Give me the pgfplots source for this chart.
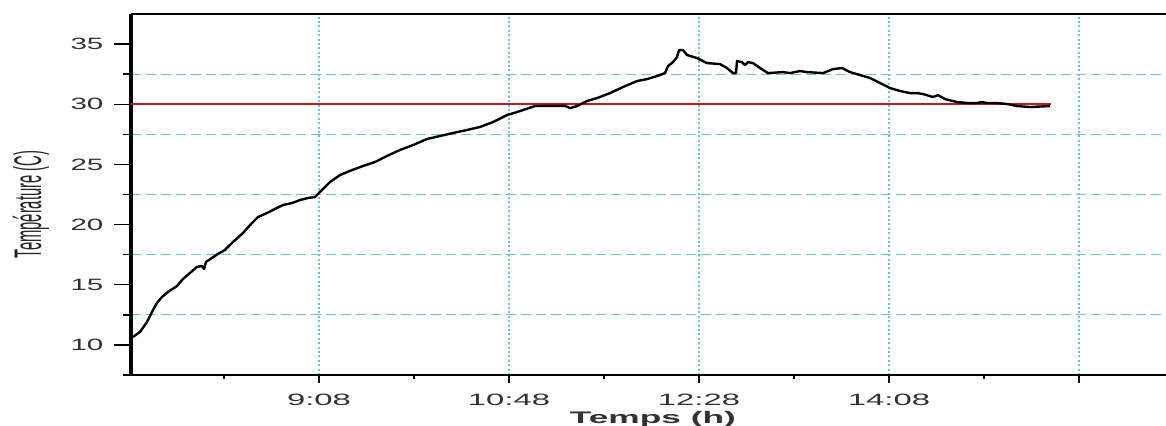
\documentclass[border=0pt]{standalone}
\usepackage{pgfplots}
\pgfplotsset{compat=1.18}
\usepackage{fontspec}
\setmainfont{Liberation Sans}
\definecolor{gridc}{RGB}{105,195,210}
\definecolor{redl}{RGB}{185,30,35}
\definecolor{tl}{RGB}{50,50,50}
\begin{document}
\begin{tikzpicture}
\begin{axis}[
  scale only axis,
  width=517.5pt, height=180.5pt,
  xmin=449.05, xmax=993.8,
  ymin=7.5, ymax=37.5,
  /pgf/number format/assume math mode=true,
  axis x line*=box, axis y line*=left,
  x axis line style={line width=1.2pt},
  y axis line style={line width=1.6pt,-},
  xtick={548,648,748,848,948},
  xticklabels={\scalebox{2}[1]{9:08},\scalebox{2}[1]{10:48},\scalebox{2}[1]{12:28},\scalebox{2}[1]{14:08},{}},
  minor xtick={498,598,698,798,898},
  ytick={10,15,20,25,30,35},
  yticklabel={\scalebox{1.8}[1]{\pgfmathprintnumber{\tick}}},
  minor ytick={7.5,12.5,17.5,22.5,27.5,32.5},
  tick align=outside,
  xtick pos=bottom, ytick pos=left,
  xtick style={/pgfplots/major tick length=4pt,/pgfplots/minor tick length=2pt,line width=1.3pt,black},
  ytick style={/pgfplots/major tick length=8.5pt,/pgfplots/minor tick length=4pt,line width=0.7pt,black},
  tick label style={font=\fontsize{8.2}{9}\selectfont, text=tl},
  xticklabel style={yshift=-1.5pt},
  yticklabel style={xshift=-6pt},
  xmajorgrids, yminorgrids, ymajorgrids=false,
  major x grid style={gridc, line width=1pt, dash pattern=on 1pt off 1.2pt},
  minor y grid style={gridc, line width=0.55pt, dash pattern=on 5pt off 2.5pt},
  clip=true,
]
\addplot[redl, line width=0.8pt] coordinates {(449.05,30) (933,30)};
\addplot[black, line width=1.2pt, line join=round] coordinates {
(450.1,10.66)(453.8,11.08)(457.5,11.91)(460.1,12.74)(462.7,13.49)(465.4,13.99)
(468.5,14.40)(473.3,14.90)(476.4,15.48)(480.1,15.98)(483.8,16.48)(486.4,16.56)
(487.5,16.31)(488.5,16.89)(491.7,17.23)(494.8,17.56)(498.5,17.89)(502.7,18.55)
(508.0,19.30)(512.7,20.13)(515.9,20.63)(520.6,20.96)(524.8,21.30)(529.1,21.63)
(533.8,21.79)(538.0,22.04)(542.2,22.21)(545.9,22.29)(548.5,22.71)(553.8,23.54)
(559.1,24.12)(565.4,24.53)(571.2,24.87)(577.5,25.20)(583.8,25.70)(590.6,26.20)
(597.5,26.61)(604.8,27.11)(611.7,27.36)(618.5,27.61)(625.9,27.86)(632.7,28.11)
(639.6,28.52)(646.9,29.10)(652.2,29.35)(655.4,29.52)(661.7,29.85)(669.6,29.87)
(677.5,29.87)(680.1,29.68)(683.8,29.85)(689.1,30.27)(694.3,30.51)(701.2,30.93)
(708.0,31.43)(715.4,31.93)(720.6,32.09)(725.9,32.34)(730.1,32.59)(731.7,33.17)
(734.3,33.50)(736.4,33.92)(737.5,34.50)(739.6,34.50)(741.7,34.09)(746.9,33.84)
(752.2,33.42)(759.0,33.34)(762.7,33.01)(765.9,32.59)(767.5,32.59)(768.0,33.59)
(770.6,33.50)(772.2,33.26)(773.8,33.50)(776.4,33.42)(780.1,33.01)(784.3,32.59)
(792.2,32.67)(795.9,32.59)(801.2,32.76)(804.8,32.67)(813.3,32.59)(818.5,32.92)
(823.3,33.01)(827.5,32.67)(832.7,32.43)(838.0,32.18)(843.3,31.76)(848.5,31.35)
(853.8,31.10)(859.0,30.93)(862.7,30.93)(865.9,30.85)(871.1,30.60)(873.8,30.76)
(877.5,30.43)(883.8,30.18)(889.6,30.10)(894.3,30.10)(896.9,30.18)(899.6,30.10)
(904.8,30.10)(910.1,30.02)(915.4,29.85)(922.2,29.77)(932.7,29.85)
};
\coordinate (SW) at (rel axis cs:0,0);
\coordinate (NE) at (rel axis cs:1,1);
\coordinate (W) at (rel axis cs:0,0.5);
\coordinate (S) at (rel axis cs:0.5,0);
\end{axis}
\node[rotate=90, anchor=center, font=\fontsize{7.4}{8}\selectfont, text=black!85] at ([shift={(-50pt,-5pt)}]W) {\scalebox{1}[2.6]{Température (C)}};
\node[anchor=center, font=\fontsize{8.4}{9}\selectfont\bfseries, text=black!80] at ([shift={(2.2pt,-22pt)}]S) {\scalebox{2.1}[1]{Temps (h)}};
\pgfresetboundingbox
\path ([shift={(-65.5pt,-25.5pt)}]SW) rectangle ([shift={(0pt,7pt)}]NE);
\end{tikzpicture}
\end{document}
